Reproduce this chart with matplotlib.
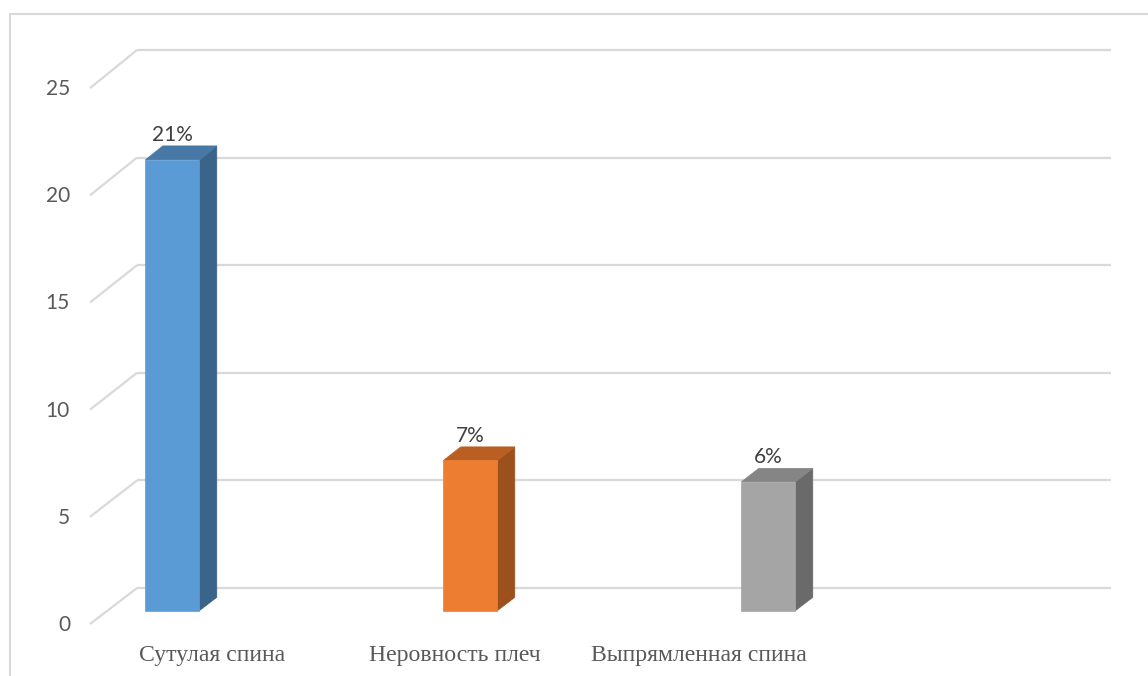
import matplotlib
matplotlib.use("Agg")
import matplotlib.pyplot as plt
from matplotlib.patches import Polygon, Rectangle

# ---- data ----
categories = ["Сутулая спина", "Неровность плеч", "Выпрямленная спина"]
values = [21, 7, 6]
value_labels = ["21%", "7%", "6%"]
y_ticks = [0, 5, 10, 15, 20, 25]

front_colors = ["#5B9BD5", "#ED7D31", "#A5A5A5"]
side_colors = ["#3A6489", "#9C511D", "#6A6A6A"]
top_colors = ["#4778A6", "#BA5F23", "#858585"]

# ---- figure / projection ----
W, H, DPI = 1148, 676, 100
fig = plt.figure(figsize=(W / DPI, H / DPI), dpi=DPI)
fig.patch.set_facecolor("white")
ax = fig.add_axes([0, 0, 1, 1])
ax.set_axis_off()

px_x = 298.0      # pixels per category unit
px_y = 21.52      # pixels per value unit
x0_px = 202.0     # pixel of x=0
y0_px = 88.0      # pixel (from bottom) of value 0
ax.set_xlim(-x0_px / px_x, (W - x0_px) / px_x)
ax.set_ylim(-y0_px / px_y, (H - y0_px) / px_y)

A = 47.0 / px_x   # depth shift in x units (full depth)
B = 36.0 / px_y   # depth shift in value units (full depth)
K = 0.004         # slight perspective shrink towards the front


def P(x, v, d):
    return (x - A * d, v * (1 - K * d) - B * d)


x_left = -0.2181
x_right = 3.0503
grid_c = "#D9D9D9"

# gridlines: back wall lines + left wall diagonals
for t in y_ticks:
    bx, by = zip(P(x_left, t, 0), P(x_right, t, 0))
    ax.plot(bx, by, color=grid_c, lw=1.6, solid_capstyle="butt", zorder=1)
    dx, dy = zip(P(x_left, t, 0), P(x_left, t, 1))
    ax.plot(dx, dy, color=grid_c, lw=1.6, solid_capstyle="butt", zorder=1)
    ax.annotate(str(t), xy=P(x_left, t, 1), xytext=(-20, -7), textcoords="offset pixels",
                ha="right", va="baseline", fontsize=15, family="Lato", color="#595959")

# bars
dF, dB = 0.63, 0.26
w = 27.0 / px_x
for i, (v, fc, sc, tc, lab) in enumerate(zip(values, front_colors, side_colors, top_colors, value_labels)):
    front = [P(i - w, 0, dF), P(i + w, 0, dF), P(i + w, v, dF), P(i - w, v, dF)]
    side = [P(i + w, 0, dF), P(i + w, 0, dB), P(i + w, v, dB), P(i + w, v, dF)]
    top = [P(i - w, v, dF), P(i + w, v, dF), P(i + w, v, dB), P(i - w, v, dB)]
    for poly, c in ((side, sc), (top, tc), (front, fc)):
        ax.add_patch(Polygon(poly, closed=True, facecolor=c, edgecolor=c, lw=0.5, zorder=3))
    lx = P(i, v, dF)[0]
    ly = P(i, v, dB)[1]
    ax.annotate(lab, xy=(lx, ly), xytext=(0, 5), textcoords="offset pixels",
                ha="center", va="baseline", fontsize=15, family="Lato", color="#404040", zorder=4)

# category labels: front plane split into 4 equal slots
fl = x_left - A
fr = x_right - A
slot = (fr - fl) / 4
for i, cat in enumerate(categories):
    cx = fl + slot * (i + 0.5)
    ax.annotate(cat, xy=(cx, P(0, 0, 1)[1]), xytext=(0, -37), textcoords="offset pixels",
                ha="center", va="baseline", fontsize=17.1, family="Liberation Serif", color="#595959")

# chart-area border (extends past right/bottom edges)
fig.patches.append(Rectangle((10 / W, -0.1), 1.2, (H - 14) / H + 0.1, transform=fig.transFigure,
                             fill=False, edgecolor="#D9D9D9", lw=1.5))

fig.savefig("out.png", dpi=DPI)
